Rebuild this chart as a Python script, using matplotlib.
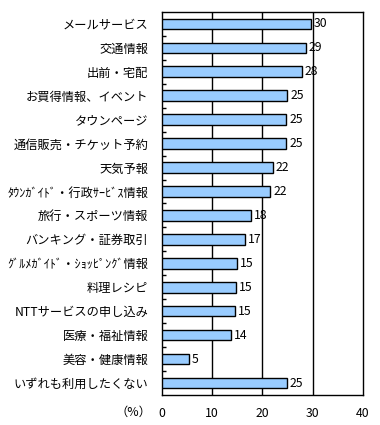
import numpy as np
import matplotlib
matplotlib.use("Agg")
import matplotlib.pyplot as plt

plt.rcParams['font.family'] = ['Noto Sans CJK JP', 'DejaVu Sans']

# data (top to bottom)
categories = [
    "メールサービス", "交通情報", "出前・宅配", "お買得情報、イベント",
    "タウンページ", "通信販売・チケット予約", "天気予報",
    "ﾀｳﾝｶﾞｲﾄﾞ・行政ｻｰﾋﾞｽ情報", "旅行・スポーツ情報", "バンキング・証券取引",
    "ｸﾞﾙﾒｶﾞｲﾄﾞ・ｼｮｯﾋﾟﾝｸﾞ情報", "料理レシピ", "NTTサービスの申し込み",
    "医療・福祉情報", "美容・健康情報", "いずれも利用したくない",
]
values = [29.7, 28.6, 27.9, 25.0, 24.8, 24.8, 22.1, 21.6,
          17.8, 16.6, 15.0, 14.7, 14.6, 13.8, 5.4, 24.9]
labels = ["30", "29", "28", "25", "25", "25", "22", "22",
          "18", "17", "15", "15", "15", "14", "5", "25"]
xticks = [0, 10, 20, 30, 40]

fig = plt.figure(figsize=(3.8, 4.25), dpi=100)
ax = fig.add_axes([0.425, 0.0706, 0.53, 0.9014])

y = np.arange(len(categories))
ax.barh(y, values, height=0.44, color="#99CCFF", edgecolor="black",
        linewidth=1.0, zorder=3)
for yi, v, lab in zip(y, values, labels):
    ax.text(v + 0.6, yi, lab, va="center", ha="left", fontsize=8.8, zorder=4)

ax.set_xlim(0, 40)
ax.set_ylim(len(categories) - 0.5, -0.5)
ax.set_xticks(xticks)
ax.set_xticklabels([str(t) for t in xticks], fontsize=8.8)
ax.tick_params(axis="x", length=0, pad=9)
for t in xticks[1:-1]:
    ax.axvline(t, color="black", linewidth=1.0, zorder=1)

ax.set_yticks(y)
ax.set_yticklabels(categories, fontsize=8.8)
ax.tick_params(axis="y", which="major", length=0, pad=9.5)
ax.set_yticks(np.arange(0.5, len(categories) - 1, 1.0), minor=True)
ax.tick_params(axis="y", which="minor", direction="in", length=3,
               width=1.0, color="black")

for s in ax.spines.values():
    s.set_color("black")
    s.set_linewidth(1.0)

fig.text(151 / 380, 1 - 412 / 425, "（%）", fontsize=8.8, va="center", ha="right")

fig.savefig("out.png", dpi=100, facecolor="white")
